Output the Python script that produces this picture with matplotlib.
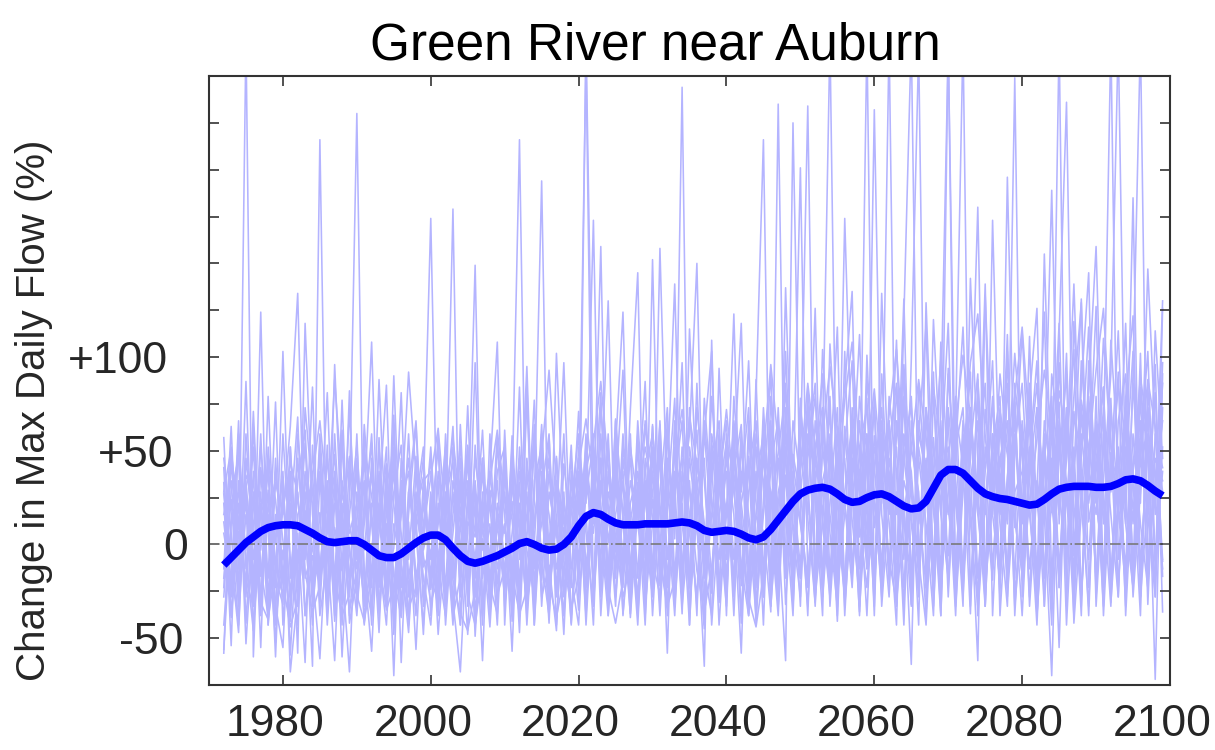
import numpy as np
import matplotlib
matplotlib.use("Agg")
import matplotlib.pyplot as plt
from matplotlib.transforms import ScaledTranslation

plt.rcParams["font.family"] = ["Liberation Sans", "DejaVu Sans"]

years = np.arange(1972, 2100)

# Ensemble members: annual change in max daily flow (%), 1972-2099
run_01 = [-18, 24, -33, 270, -60, 41, 8, -12,
          -27, 14, 68, -38, -6, -22, 31, -41, 12, 47,
          6, -31, -14, 22, 85, -35, -9, -47, 18, 36,
          -24, 11, 52, -39, -17, 74, -28, 3, -44, 19,
          -7, 29, 216, -33, -2, -19, 58, -26, 9, -42,
          38, -11, 17, 81, -29, 46, -37, 6, 27, -16,
          63, -8, -34, 21, 97, -23, 12, -45, 54, 33,
          -4, 42, 118, -21, 15, 7, -36, 235, -14, 48,
          26, 71, -19, 104, 37, -41, 59, 13, -27, 88,
          43, -12, 66, -33, 121, 270, -9, 28, 57, -24,
          94, 31, -21, 62, 16, 139, -38, 47, 11, 76,
          -19, 83, 22, 55, -34, 112, 236, -6, 68, 35,
          127, -23, 49, 18, 73, -14, 102, -32, 59, 41]
run_02 = [41, -39, 7, -24, 63, -17, 29, -60,
          36, -68, -27, 18, -65, 216, -31, 9, -14, 72,
          -8, 33, -43, 57, -19, -2, 81, -26, 14, -48,
          27, -13, 39, -30, -68, 12, 4, 61, -22, -37,
          49, -41, 21, 3, 77, -28, -11, -46, 43, 8,
          -35, 270, 28, -19, 52, -4, 34, -39, 19, 87,
          -26, 58, -7, 31, -37, 73, 11, -65, 109, -31,
          16, 64, -22, 47, -42, 24, 92, -12, 37, -28,
          78, 14, -31, 53, 270, -17, 63, 29, -36, 101,
          9, 46, -21, 84, 19, -32, 58, 117, -16, 35,
          -6, 71, 42, -37, 88, 23, -19, 64, 13, 249,
          -28, 49, 98, -15, 21, 76, -43, 37, 131, 12,
          39, 84, -31, 26, 118, -22, 63, 16, 96, -36]
run_03 = [-56, 13, 52, -8, -46, 21, -27, 39,
          2, -41, 34, 61, -16, -61, 14, 48, -32, 26,
          230, -27, 19, -47, 42, -17, -39, 28, 66, -12,
          -3, -36, 24, 44, -26, 53, -49, 18, 9, -21,
          36, 13, -31, 78, -11, 24, -42, 47, -23, 2,
          71, -16, 41, 7, -38, 29, 93, -27, 52, -7,
          24, -32, 59, 3, 244, -43, 36, -13, 79, 18,
          -28, 52, 13, -37, 88, -17, 41, 67, -32, 29,
          -12, 76, 23, -38, 107, 41, -22, 59, 4, 270,
          -27, 53, 12, -43, 96, 28, -17, 73, -33, 46,
          118, -13, 58, 23, -62, 133, 34, -23, 86, 9,
          64, -33, 29, 124, -18, 45, 91, -42, 17, 72,
          -22, 53, 270, -8, 39, 103, -28, 24, 81, -17]
run_04 = [12, -21, 66, -42, 23, -3, 47, -33,
          -55, 29, -8, 54, -27, 17, -37, 96, 2, -18,
          41, -42, -3, 33, -22, 69, -32, 12, -56, 28,
          174, -22, 6, -37, 39, -8, 28, -43, 59, -27,
          -13, 23, -47, 46, 1, 64, -18, 12, -38, 34,
          17, 260, -32, 46, -18, 67, 12, -37, 33, -3,
          52, -22, 23, 78, -33, 11, 61, -13, -38, 94,
          -8, 34, -42, 66, 22, -28, 79, 6, -62, 225,
          17, -33, 46, 91, -18, 63, -38, 34, 112, -13,
          58, 22, 270, -28, 45, 79, -8, -43, 38, 99,
          -23, 51, 116, 12, -33, 72, 27, -13, 103, -38,
          33, 86, -18, 52, 17, 270, -33, 71, 28, -8,
          63, -38, 39, 114, 11, -23, 84, 45, -28, 126]
run_05 = [-58, 46, -13, 28, -33, 124, -43, 11,
          34, -32, 6, -63, 53, -13, 28, -28, 61, -42,
          -18, 17, 54, -38, 11, -28, 34, -8, 47, -33,
          22, -48, 6, 179, -43, 28, -18, 46, -33, 11,
          -28, 58, -8, 28, -43, 39, 16, -23, 59, -38,
          6, 52, -23, 73, 21, -33, 46, 11, -43, 34,
          -13, 66, -38, 39, 16, -23, 86, -8, 46, -43,
          22, -18, 61, -33, 79, 216, -28, 46, 16, -38,
          66, 27, -28, 11, 73, -38, 103, -13, 39, 59,
          -38, 91, 16, 52, -23, 34, -43, 129, 22, -13,
          270, -28, 46, 73, -18, 39, 98, -38, 27, 66,
          -13, 111, -38, 22, 73, -23, 52, 104, -28, 39,
          16, 73, -18, 52, -33, 92, 270, -13, 34, 66]
run_06 = [27, -8, -47, 46, 6, -38, 79, -18,
          -32, 52, -23, 11, 39, -38, -8, 34, -60, 16,
          53, -13, -57, 22, -28, 46, 6, -38, 28, -18,
          -43, 16, 41, -18, 11, -48, 53, -3, 22, -33,
          61, -23, 33, -43, 22, 194, -33, 28, -8, 53,
          -28, 16, -43, 59, 1, 34, -18, 72, 145, -38,
          39, -3, 66, -28, 22, -43, 46, 11, -23, 61,
          -38, 79, 22, -13, 39, -43, 66, 11, 86, -18,
          46, 234, -23, 73, 6, -33, 52, 98, -13, 28,
          73, -33, 22, 109, -8, 52, 28, -38, 79, 16,
          -18, 66, 270, -33, 46, 16, 79, -18, 34, 102,
          52, -28, 73, 28, -43, 97, 22, -13, 46, 116,
          -33, 34, 91, 270, 22, -23, 52, 103, -8, 39]
run_07 = [57, -28, 22, -23, 71, -13, -38, 33,
          16, 63, 134, -18, -3, 39, -43, 22, 11, -33,
          -23, 58, -33, 6, 52, -48, 22, 39, -18, 11,
          46, -33, 16, 63, -28, 6, 149, -38, 28, -13,
          11, -38, 52, -3, -28, 28, 59, -43, 22, 1,
          39, -43, 28, -8, 59, -28, 16, 46, -18, 66,
          11, 46, -58, 66, -13, 34, -38, 78, 22, -23,
          52, -8, 34, 73, -33, 16, 59, -23, 103, 6,
          -28, 52, 86, -18, 39, 116, -33, 22, 66, -8,
          232, 16, -28, 59, 92, -18, 46, 11, -38, 73,
          265, 22, -23, 52, 91, -33, 59, 16, 112, -28,
          22, 66, -38, 39, 189, 11, 73, -23, 98, 46,
          -18, 59, 16, -28, 78, 122, -13, 52, 22, 86]
run_08 = [-13, 63, -33, 16, -23, 52, 6, -52,
          28, -28, 46, -8, 84, -33, 34, -18, 53, -3,
          -38, 22, 108, -23, 6, 39, -38, 16, 64, -28,
          11, 52, -33, 28, -13, 46, -38, 22, -8, 59,
          -33, 6, 46, -23, 53, -8, -38, 34, 16, -23,
          52, 22, 173, -28, 39, -13, 59, 6, -33, 46,
          -38, 28, 73, -18, 52, 16, -33, 61, 6, 34,
          66, -28, 22, 46, -23, 73, 11, -38, 52, 22,
          201, -18, 46, 16, 79, -28, 28, 66, 11, -23,
          39, 73, -18, 28, -33, 98, 265, -28, 52, 22,
          66, -23, 34, 92, -38, 22, 73, 39, -18, 52,
          86, 16, -23, 66, 34, 118, -8, 52, -33, 79,
          28, -18, 109, 46, 11, 185, -28, 73, 39, -13]
run_09 = [46, 6, -43, 34, -18, 59, -33, 16,
          -8, 39, -58, 118, 16, -23, 53, -38, 28, 6,
          22, -33, 46, -8, -43, 28, 53, -18, 11, 46,
          -18, 34, -43, 16, 53, -28, 22, -62, 39, -3,
          28, -18, 84, -33, 11, 46, -28, 16, -48, 39,
          -13, 46, 11, 159, -38, 16, 39, -23, 66, 6,
          -28, 52, -8, 34, 66, -18, 22, 46, -43, 16,
          39, -38, 52, 16, -18, 66, -33, 28, 46, -13,
          73, 34, -33, 52, 16, -18, 174, 39, -38, 59,
          22, -23, 79, 39, -43, 66, 11, 46, -18, 108,
          34, -38, 59, 16, 79, -23, 46, -28, 196, 22,
          -38, 39, 73, -18, 59, 16, 102, -28, 28, 84,
          159, 22, -33, 66, 91, -18, 46, 16, -28, 73]
run_10 = [-28, 28, 46, -53, 11, 39, -18, 76,
          -43, 22, -13, 39, -23, 59, -3, -62, 34, 11,
          -13, 46, -23, 88, -3, -38, 34, -43, 22, 52,
          -38, 22, -23, 52, -3, 34, -43, 16, 39, 108,
          -43, 34, -18, 16, 59, -33, 28, 6, -38, 22,
          59, -33, 34, -13, 11, 52, -38, 22, 39, -28,
          152, -13, 39, -33, 28, 59, 150, -28, 16, 52,
          -18, 46, 16, -38, 59, 34, -23, 73, -13, 39,
          -33, 84, 28, -13, 52, 11, -28, 73, 28, -38,
          52, 34, -13, 66, 22, -64, 86, 28, -23, 46,
          16, 59, -28, 46, 180, -18, 52, 11, -33, 86,
          46, -13, 34, -33, 91, 59, -18, 119, 39, -38,
          66, 11, 78, -23, 52, 34, -38, 84, 16, 130]
run_11 = [22, -38, 34, -3, 52, -28, 16, -23,
          103, -18, 28, -38, 11, 46, -28, 59, -13, -68,
          28, -3, 39, -33, 16, 59, -23, 6, -38, 34,
          39, -8, 28, -38, 64, -18, 11, 46, -28, 16,
          -18, 52, -38, 39, -13, 11, 46, -28, 28, -43,
          22, -23, 52, 16, -28, 39, -8, 59, -38, 28,
          -23, 158, 16, -38, 39, 6, -28, 66, 22, -8,
          46, 16, -58, 59, 6, -23, 52, -33, 137, 11,
          -18, 59, 39, -28, 22, 73, -23, 46, 16, 78,
          -23, 59, 39, -8, 79, -33, 52, 22, 92, -28,
          46, 79, -18, 34, 66, -33, 173, 22, -13, 59,
          11, 52, -28, 155, 22, -18, 66, 39, -38, 98,
          34, -33, 73, 22, -18, 59, 11, -23, 114, 46]
run_12 = [-43, 11, 28, -28, 39, -55, 52, 1,
          39, -59, 16, 28, -33, 6, 81, -23, 22, -38,
          6, 34, -18, 52, -33, 11, -13, 59, -28, 22,
          -8, 59, -28, 6, 46, -33, 34, -18, 11, -43,
          39, -13, 22, -38, 34, 52, -23, 11, 97, -18,
          -43, 34, 6, 46, -23, 66, 16, -33, 28, 52,
          28, -38, 34, 139, -18, 46, 11, -43, 39, 66,
          -3, 59, -38, 28, 52, -28, 22, 46, -18, 66,
          34, -38, 66, 28, -23, 46, 84, 135, -33, 22,
          -13, 46, 66, -18, 34, 16, -28, 73, 39, -38,
          73, 28, -33, 142, 46, -23, 22, 91, 52, -18,
          66, 22, -43, 46, 79, -23, 34, -18, 84, 145,
          -28, 52, 28, 92, -38, 39, 66, 22, -18, 52]
run_13 = [6, -18, -38, 59, -8, 28, -43, 46,
          -18, 34, -33, 73, 28, -13, 6, 39, -43, 46,
          -28, 64, 11, -33, 28, -70, 46, -28, 16, -3,
          16, -38, 59, -13, 34, -23, 97, -33, -3, 34,
          -23, 46, 11, -33, 64, -18, 39, -13, 6, 46,
          -18, 59, -28, 28, 130, -18, 52, 16, -28, 39,
          59, 22, -33, 52, 11, -23, 73, 34, -18, 46,
          16, 123, -18, 39, 66, -13, 28, -33, 59, 34,
          11, -23, 52, 73, -33, 28, 46, -18, 79, 39,
          -33, 134, 28, -23, 59, 39, -13, 73, 22, -38,
          91, 34, -13, 66, 22, -33, 52, 79, -28, 28,
          39, 73, -28, 22, 66, -13, 46, 139, 22, -33,
          79, -23, 46, 34, -13, 86, 22, 147, 59, -8]
run_14 = [33, -54, 59, -13, 28, -33, 22, -8,
          -28, 52, -18, 6, -43, 34, 16, -33, 77, -23,
          46, -18, -38, 39, -8, 52, -63, 28, 6, -43,
          28, -28, 46, -13, -43, 22, -8, 39, -23, 52,
          16, -57, 39, 22, -33, 59, -3, 28, -28, 16,
          46, 6, -33, 34, -13, 52, 124, -18, 59, -33,
          11, 64, -18, 28, 46, -33, 16, 59, 103, -28,
          59, -23, 39, 11, -38, 52, 28, -18, 66, -33,
          52, 16, 126, -23, 59, 22, -28, 52, 34, -13,
          79, -18, 46, 16, 131, -23, 59, 39, -8, 66,
          -28, 52, 73, -23, 39, 86, -13, 46, 66, -33,
          16, 79, 126, -33, 46, -55, 73, -28, 59, 22,
          52, 84, -18, 39, 66, -28, 28, 73, -13, 97]
run_15 = [-23, 52, -3, 22, -43, 6, 39, -38,
          59, -8, -43, 34, 22, -18, 46, 6, -28, 82,
          -33, 11, 59, -18, 34, -43, 16, 46, -23, 1,
          52, -13, -38, 34, 11, 52, -28, 28, -38, 22,
          6, 39, -28, 86, -43, 22, 1, 46, -18, 34,
          -8, 39, 59, -38, 28, 11, -23, 52, 22, -43,
          46, 16, -23, 64, -28, 115, 28, -18, 52, 11,
          -33, 66, 28, 98, -13, 46, 11, -28, 73, 22,
          -18, 46, 79, 11, -28, 59, 22, -23, 52, 73,
          28, -28, 52, 86, 11, -18, 66, 34, -23, 59,
          39, -18, 66, 34, -28, 52, 16, 73, -23, 46,
          113, 34, -18, 59, -28, 52, 22, 79, 129, -23,
          46, 66, -23, 16, 73, 39, -18, 59, -72, 91]
run_16 = [16, 34, -23, 87, -28, 22, 11, -43,
          -3, -38, 59, 16, -23, 52, -33, 28, 11, -28,
          59, -43, 22, 16, -33, 90, -18, -38, 39, 28,
          -23, 39, 11, -43, 28, -13, 46, 11, -28, 39,
          52, -28, 6, 95, -23, 34, -38, 102, 11, -13,
          28, -38, 46, 22, -33, 59, -13, 34, 11, -23,
          64, -18, 46, 16, -28, 52, 22, -33, 59, 34,
          -23, 39, 64, -13, 34, 59, -33, 22, 46, -23,
          39, 73, -13, 34, 52, -23, 16, 66, -28, 46,
          -18, 66, 34, -33, 52, 73, 22, -23, 120, 39,
          52, -33, 28, 73, 16, -23, 59, 34, -13, 79,
          -18, 46, 86, 16, -70, 66, 34, -38, 73, 39,
          22, 110, 52, -28, 66, 11, 79, -23, 46, 34]
run_17 = [-8, -21, 14, 37, 22, -31, -40, -12,
          18, 44, 27, -15, -36, -22, 9, 88, 31, -5,
          -27, -41, -16, 12, 43, 21, -11, -34, -23, 8,
          36, 62, 14, -19, -37, -46, -24, 7, 29, 17,
          -12, -31, 4, 33, 51, 18, -21, -39, -17, 21,
          42, 67, 33, 8, -24, -42, -19, 12, 38, 24,
          -9, -27, 18, 46, 72, 29, -14, -36, -12, 27,
          55, 38, 6, -29, -44, -16, 23, 49, 81, 44,
          12, -18, 33, 58, 95, 61, 22, -12, 19, 47,
          83, 36, -8, -31, 14, 52, 88, 57, 18, -21,
          29, 64, 101, 69, 26, -9, 34, 71, 48, 13,
          -16, 22, 56, 93, 62, 27, -6, 41, 77, 52,
          24, -11, 38, 84, 57, 19, 46, 88, 63, 28]
run_18 = [28, 51, 9, -19, -33, 17, 43, 24,
          -21, -44, -29, 6, 37, 66, 24, -17, -38, -26,
          14, 49, 26, -9, -35, -22, 18, 92, 37, -6,
          -31, -18, 23, 57, 19, -27, -43, -14, 34, 61,
          23, -16, -37, -24, 12, 47, 93, 31, -9, -34,
          -18, 26, 54, 87, 42, 4, -28, -11, 31, 64,
          37, -6, -33, -19, 24, 68, 43, 9, -26, 36,
          72, 29, -11, -38, 17, 48, 96, 54, 13, -19,
          41, 86, 52, 14, -24, 33, 77, 108, 46, 8,
          -17, 28, 69, 104, 47, 11, -22, 39, 84, 53,
          19, -14, 44, 97, 123, 58, 16, -19, 36, 79,
          116, 61, 23, -14, 37, 82, 57, 21, -27, 49,
          93, 126, 54, 17, -21, 42, 89, 61, 24, -9]

members = [run_01, run_02, run_03, run_04, run_05, run_06, run_07, run_08, run_09,
           run_10, run_11, run_12, run_13, run_14, run_15, run_16, run_17, run_18]

# Smoothed ensemble mean (%)
ensemble_mean = [-11, -7, -3, 1, 4, 7, 9, 10,
                 10.5, 10.5, 10, 8, 6, 3.5, 1.5, 1, 1.5, 2,
                 2, 0, -3, -6, -7, -7, -5, -2, 1, 3.5,
                 5, 5, 2.5, -2, -6, -9, -10, -9, -7.5, -6,
                 -4, -2, 0.5, 1.5, 0, -2, -3, -2.5, 0, 4,
                 10, 15, 17, 16, 13.5, 11.5, 10.5, 10.5, 10.5, 11,
                 11, 11, 11, 11.5, 12, 11.5, 10, 7.5, 6.5, 7,
                 7.5, 7, 5.5, 3.5, 2.5, 4, 8, 13, 18, 23,
                 27, 29, 30, 30.5, 29.5, 27, 24, 22.5, 23, 25,
                 26.5, 27, 25.5, 23, 20.5, 19, 19.5, 23, 30, 37,
                 40, 40, 38, 34, 30, 27, 25.5, 24.5, 24, 23,
                 22, 21, 21.5, 24, 27, 29.5, 30.5, 31, 31, 31,
                 30.5, 30.5, 31, 32.5, 34.5, 35, 34, 31.5, 28.5, 26]

x_ticks = [1980, 2000, 2020, 2040, 2060, 2080, 2100]
y_ticks = [-50, -25, 0, 25, 50, 75, 100, 125, 150, 175, 200, 225]
y_ticklabels = ["-50", "", "0", "", "+50", "", "+100", "", "", "", "", ""]
# horizontal nudge (px) applied to each labelled y tick
y_label_shift = {"-50": -5, "0": 0, "+50": -15, "+100": -20}

fig = plt.figure(figsize=(12.15, 7.5), dpi=100)
ax = fig.add_axes([209 / 1215, 1 - 685 / 750, (1170 - 209) / 1215, (685 - 76) / 750])

for run in members:
    ax.plot(years, run, color="#b4b4ff", lw=1.15, zorder=1)

ax.axhline(0, color="#7a7a7a", lw=1.2, ls="-.", zorder=2)
ax.plot(years, ensemble_mean, color="#0000ff", lw=5.5, zorder=3,
        solid_capstyle="butt")

ax.set_xlim(1970, 2100)
ax.set_ylim(-75, 250)
ax.set_xticks(x_ticks)
ax.set_yticks(y_ticks)
ax.set_yticklabels(y_ticklabels)

frame_col = "#333333"
for sp in ax.spines.values():
    sp.set_color(frame_col)
    sp.set_linewidth(1.5)
ax.tick_params(axis="both", direction="in", length=7, width=1.2,
               color=frame_col, labelcolor="#262626", labelsize=32,
               top=True, right=True)
ax.tick_params(axis="x", pad=14)
ax.tick_params(axis="y", pad=15)

for lab in ax.get_xticklabels():
    lab.set_transform(lab.get_transform() +
                      ScaledTranslation(-8 / 100, 0, fig.dpi_scale_trans))
for lab in ax.get_yticklabels():
    dx = y_label_shift.get(lab.get_text(), 0)
    lab.set_transform(lab.get_transform() +
                      ScaledTranslation(dx / 100, 0, fig.dpi_scale_trans))

fig.text(655 / 1215, 1 - 60 / 750, "Green River near Auburn", fontsize=37,
         ha="center", va="baseline", color="black")
fig.text(34 / 1215, 1 - 410 / 750, "Change in Max Daily Flow (%)", fontsize=29,
         rotation=90, ha="center", va="center", color="#262626")

fig.savefig("out.png", dpi=100)
